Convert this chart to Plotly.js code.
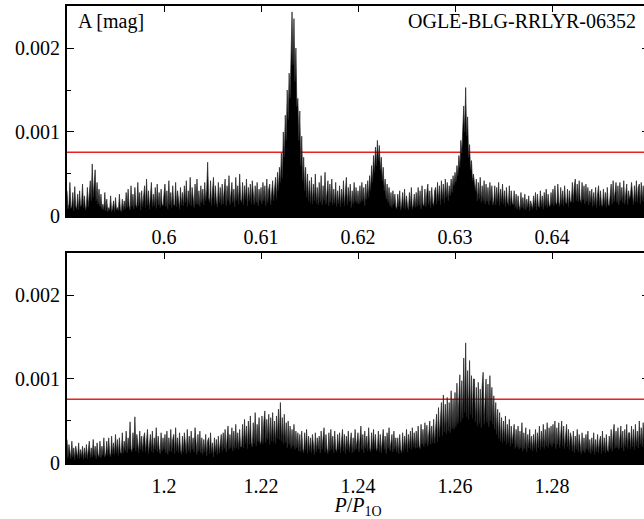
<!DOCTYPE html>
<html><head><meta charset="utf-8">
<script src="https://cdn.plot.ly/plotly-3.0.1.min.js"></script>
<style>html,body{margin:0;padding:0;overflow:hidden;background:#fff}#chart{width:652px;height:519px}</style>
</head><body><div id="chart"></div>
<script>
// Amplitudes in units of 1e-5 mag
const ampUnit = 1e-5;
const topStart = 0.59, topStep = 0.0001;
const topAmp = [
30,8,14,40,9,12,28,6,35,12,8,26,7,30,11,14,38,10,24,7,
12,34,11,28,42,18,62,22,48,55,18,40,14,32,11,26,8,14,7,28,
6,20,5,10,7,24,5,9,18,5,22,7,10,6,26,8,5,20,7,18,
8,28,10,32,12,7,36,11,26,8,34,13,10,40,12,28,7,30,11,24,
36,10,44,13,30,8,28,40,11,26,12,34,9,38,13,28,10,32,14,12,
26,38,11,30,8,42,13,28,10,36,14,12,40,11,30,16,8,34,13,28,
12,36,16,42,11,30,14,46,12,34,18,10,38,14,44,13,30,11,36,16,
32,13,40,18,30,64,22,16,42,12,30,46,14,36,18,11,40,16,34,13,
38,14,30,44,12,36,18,48,13,34,40,16,32,11,46,18,36,14,50,20,
16,40,13,36,20,44,12,34,18,38,14,42,20,13,36,16,40,12,32,18,
34,14,40,18,36,12,44,16,32,38,13,30,42,18,36,46,20,52,30,58,
40,75,45,100,70,120,90,150,115,170,140,205,243,180,235,160,200,130,140,90,
125,60,95,42,70,30,58,22,50,18,42,16,46,14,38,18,50,15,34,13,
40,16,48,13,36,18,52,14,34,42,12,38,16,44,13,32,15,40,11,30,
14,36,11,32,16,42,12,30,46,13,34,17,38,10,30,14,40,17,34,15,
30,14,36,16,40,18,34,12,38,20,42,22,48,30,60,40,72,52,82,60,
90,66,84,55,70,42,58,30,44,20,38,16,34,12,28,10,30,13,26,11,
8,26,11,30,7,13,28,9,32,8,24,12,7,28,11,34,8,13,26,10,
28,11,34,13,30,8,36,14,12,32,11,28,38,13,30,10,34,16,12,30,
34,14,40,18,36,13,42,20,38,16,44,22,40,18,36,24,44,28,48,36,
52,40,60,48,72,58,90,75,110,131,100,153,95,118,70,85,55,66,42,50,
40,30,44,18,40,20,46,16,36,18,42,14,38,17,34,13,40,18,36,13,
18,36,13,34,17,40,12,32,16,38,14,30,11,34,17,13,36,12,30,16,
13,30,10,26,8,24,12,7,28,10,22,8,26,7,20,10,24,6,18,13,
8,24,11,28,7,26,12,10,30,11,24,8,28,12,32,10,26,13,11,28,
14,32,12,36,16,13,38,17,11,34,14,30,12,36,17,14,32,11,30,16,
18,40,16,36,44,18,38,17,42,20,16,40,19,36,14,38,17,34,13,30,
16,32,11,28,13,34,10,26,36,12,30,14,11,32,13,28,10,34,14,12,
30,38,14,42,17,34,40,16,36,13,40,18,34,16,42,14,32,38,13,30,
20,26,40,18,13,36,17,42,16,34,38,14,40,18,36,17,42,19,16,38,
36];
const botStart = 1.18, botStep = 0.0002;
const botAmp = [
28,6,22,9,5,26,7,18,4,20,9,6,24,5,16,7,20,4,18,6,
22,5,16,26,6,18,7,28,9,20,5,24,10,7,26,6,20,9,30,7,
11,26,9,30,12,7,32,11,24,10,34,12,28,9,30,13,11,36,12,26,
14,38,12,30,16,49,17,13,36,18,55,14,34,17,12,38,16,32,13,30,
36,13,30,40,11,28,34,14,38,12,30,16,42,13,32,17,11,36,14,30,
16,34,12,38,10,30,14,40,13,28,34,11,42,14,30,12,36,16,10,32,
13,36,17,11,40,14,32,12,38,16,30,13,42,17,10,34,14,38,12,30,
10,28,13,34,8,26,30,11,36,12,24,7,30,13,28,10,32,12,26,34,
14,36,17,40,13,32,44,16,34,18,42,14,38,17,46,18,36,16,40,19,
20,46,18,52,23,44,17,50,22,56,24,19,48,23,60,20,46,25,54,22,
26,56,23,50,62,24,52,28,58,22,54,26,60,25,50,23,56,29,64,28,
72,26,54,23,58,24,48,18,50,22,44,17,40,20,46,16,38,18,36,14,
34,13,38,17,12,36,16,40,11,32,14,30,12,34,17,10,36,13,30,16,
32,12,38,16,30,42,13,34,17,11,36,14,40,16,32,12,38,17,13,34,
16,36,12,30,40,14,34,11,32,16,38,13,28,36,12,30,14,40,16,32,
36,13,30,44,16,34,12,38,17,32,14,42,18,13,36,16,40,17,34,14,
18,38,14,34,12,28,40,16,32,11,36,17,42,14,30,34,13,38,16,30,
13,30,11,34,16,12,36,14,32,17,40,13,34,18,38,16,42,19,36,17,
38,18,44,20,17,46,22,40,19,48,23,45,20,42,50,22,44,24,52,23,
48,58,25,66,31,60,72,32,81,37,70,35,78,38,72,36,86,41,76,40,
84,43,95,47,90,105,49,98,53,125,60,143,55,110,52,122,58,104,53,100,
100,49,90,44,96,47,88,42,92,108,46,86,100,48,94,43,104,50,90,46,
80,40,72,34,64,29,60,26,54,24,50,26,56,22,46,24,52,20,44,23,
36,46,17,40,19,44,16,38,18,48,14,36,17,42,13,34,18,40,16,32,
14,34,17,40,13,36,18,44,16,38,19,46,17,40,20,48,18,42,22,44,
19,46,23,50,17,42,22,48,18,40,50,20,44,17,38,46,19,40,16,36,
30,14,38,12,32,16,40,13,34,17,11,36,14,30,12,34,16,38,13,28,
11,30,14,36,10,28,13,34,12,26,32,11,38,14,30,12,34,16,13,32,
17,40,14,34,46,17,38,18,42,16,36,44,18,38,14,40,19,46,17,36,
36,17,44,19,40,16,46,20,38,18,50,22,42,19,48,23,55,24,44,22,
42];
const threshold = 0.00076;
const topRange = [0.59, 0.65];
const botRange = [1.18, 1.30];
const yRange = [0, 0.0025];
const topTicks = [0.6, 0.61, 0.62, 0.63, 0.64];
const topTickText = ['0.6', '0.61', '0.62', '0.63', '0.64'];
const botTicks = [1.2, 1.22, 1.24, 1.26, 1.28];
const botTickText = ['1.2', '1.22', '1.24', '1.26', '1.28'];
const yTicks = [0, 0.001, 0.002];
const yTickText = ['0', '0.001', '0.002'];

const family = 'Liberation Serif';
const font = {family: family, size: 20, color: '#000'};
const tickFont = {family: family, size: 20, color: '#000', weight: 400, shadow: 'none'};

const traces = [
  {type: 'scatter', mode: 'lines', x0: topStart, dx: topStep, y: topAmp.map(v => v * ampUnit),
   fill: 'tozeroy', fillcolor: '#000', line: {color: '#222', width: 0.7}, xaxis: 'x', yaxis: 'y', hoverinfo: 'skip'},
  {type: 'scatter', mode: 'lines', x0: botStart, dx: botStep, y: botAmp.map(v => v * ampUnit),
   fill: 'tozeroy', fillcolor: '#000', line: {color: '#222', width: 0.7}, xaxis: 'x2', yaxis: 'y2', hoverinfo: 'skip'}
];

function xax(range, tv, tt, anchor, standoff) {
  return {range: range, anchor: anchor, domain: [0, 1], tickmode: 'array', tickvals: tv, ticktext: tt,
    ticks: 'inside', ticklen: 6, tickwidth: 1, tickcolor: '#000', mirror: 'allticks', showline: true,
    linewidth: 2, linecolor: '#000', showgrid: false, zeroline: false,
    tickfont: tickFont, ticklabelstandoff: standoff, fixedrange: true};
}
function yax(domain, anchor) {
  return {range: yRange, anchor: anchor, domain: domain, tickmode: 'array', tickvals: yTicks, ticktext: yTickText,
    ticks: 'inside', ticklen: 7, tickwidth: 1, tickcolor: '#000', mirror: 'allticks', showline: true,
    linewidth: 2, linecolor: '#000', showgrid: false, zeroline: false,
    tickfont: tickFont,
    minor: {dtick: 0.0005, tick0: 0, ticks: 'inside', ticklen: 4, tickcolor: '#000', tickwidth: 1},
    ticklabelstandoff: 1, fixedrange: true};
}

const layout = {
  width: 652, height: 519,
  margin: {l: 67, r: 3, t: 6, b: 56},
  paper_bgcolor: '#fff', plot_bgcolor: '#fff',
  showlegend: false,
  font: font,
  xaxis: xax(topRange, topTicks, topTickText, 'y', 2),
  yaxis: yax([0.5405, 1], 'x'),
  xaxis2: Object.assign(xax(botRange, botTicks, botTickText, 'y2', 4),
    {title: {text: '<i>P</i>/<i>P</i><sub>1O</sub>', font: font, standoff: 2}}),
  yaxis2: yax([0, 0.4595], 'x2'),
  shapes: [
    {type: 'line', xref: 'x domain', yref: 'y', x0: 0, x1: 1, y0: threshold, y1: threshold,
     line: {color: '#e8231f', width: 1.5}, layer: 'below'},
    {type: 'line', xref: 'x2 domain', yref: 'y2', x0: 0, x1: 1, y0: threshold, y1: threshold,
     line: {color: '#e8231f', width: 1.5}, layer: 'below'}
  ],
  annotations: [
    {text: 'A [mag]', xref: 'x domain', yref: 'y domain', x: 0.016, y: 1, xanchor: 'left', yanchor: 'top',
     yshift: -2, showarrow: false, font: font},
    {text: 'OGLE-BLG-RRLYR-06352', xref: 'x domain', yref: 'y domain', x: 0.981, y: 1, xanchor: 'right', yanchor: 'top',
     yshift: -2, showarrow: false, font: font}
  ]
};

Plotly.newPlot('chart', traces, layout, {displayModeBar: false, staticPlot: true});
</script>
</body></html>
